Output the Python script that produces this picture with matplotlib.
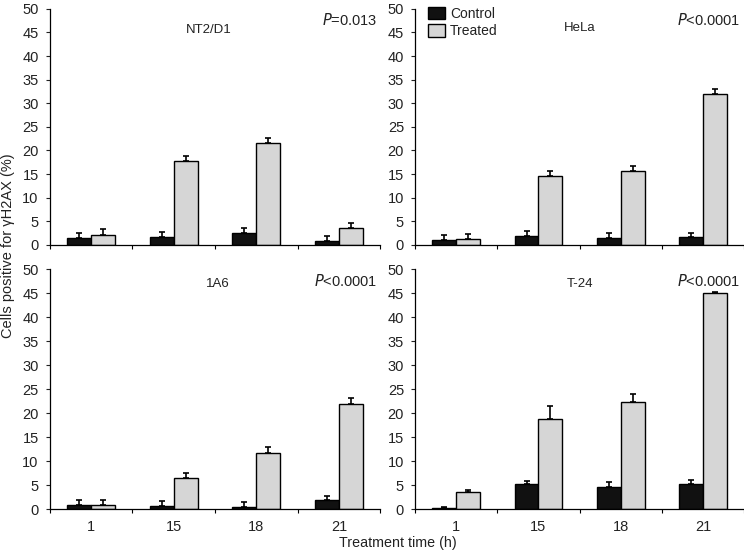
import numpy as np
import matplotlib
matplotlib.use('Agg')
import matplotlib.pyplot as plt

plt.rcParams['font.family'] = ['Liberation Sans', 'DejaVu Sans']

hours = ['1', '15', '18', '21']
cell_lines = ['NT2/D1', 'HeLa', '1A6', 'T-24']
p_values = ['=0.013', '<0.0001', '<0.0001', '<0.0001']

control = {
    'NT2/D1': [1.4, 1.6, 2.5, 0.9],
    'HeLa': [1.05, 1.8, 1.5, 1.6],
    '1A6': [0.9, 0.6, 0.4, 1.8],
    'T-24': [0.2, 5.3, 4.7, 5.2],
}
control_err = {
    'NT2/D1': [1.1, 1.1, 1.0, 1.0],
    'HeLa': [1.05, 1.2, 1.0, 1.0],
    '1A6': [1.0, 1.1, 1.1, 1.0],
    'T-24': [0.15, 0.5, 1.0, 0.8],
}
treated = {
    'NT2/D1': [2.1, 17.7, 21.5, 3.6],
    'HeLa': [1.3, 14.5, 15.7, 32.0],
    '1A6': [0.9, 6.5, 11.8, 21.9],
    'T-24': [3.6, 18.75, 22.3, 45.1],
}
treated_err = {
    'NT2/D1': [1.2, 1.2, 1.2, 1.1],
    'HeLa': [1.0, 1.1, 1.1, 1.1],
    '1A6': [1.0, 1.1, 1.1, 1.2],
    'T-24': [0.4, 2.75, 1.7, 0.1],
}

fig = plt.figure(figsize=(7.44, 5.54), dpi=100)
positions = [
    [0.067, 0.558, 0.444, 0.426],
    [0.558, 0.558, 0.442, 0.426],
    [0.067, 0.081, 0.444, 0.433],
    [0.558, 0.081, 0.442, 0.433],
]
title_pos = [(0.48, 0.91), (0.50, 0.92), (0.51, 0.94), (0.50, 0.94)]

txt = '#222222'
x = np.arange(len(hours)) + 0.5
w = 0.29

for i, name in enumerate(cell_lines):
    ax = fig.add_axes(positions[i])
    c = control[name]
    t = treated[name]
    ax.bar(x - w / 2, c, w, color='#111111', edgecolor='black', linewidth=1.0,
           yerr=[np.zeros(4), control_err[name]], capsize=2.5,
           error_kw=dict(elinewidth=1.2, capthick=1.2, ecolor='black'),
           label='Control', zorder=2)
    ax.bar(x + w / 2, t, w, color='#d6d6d6', edgecolor='black', linewidth=1.0,
           yerr=[np.zeros(4), treated_err[name]], capsize=2.5,
           error_kw=dict(elinewidth=1.2, capthick=1.2, ecolor='black'),
           label='Treated', zorder=2)
    ax.set_xlim(0, 4)
    ax.set_ylim(0, 50)
    ax.set_yticks(np.arange(0, 51, 5))
    ax.set_xticks([0, 1, 2, 3, 4])
    ax.set_xticklabels([])
    ax.set_xticks(x, minor=True)
    if i >= 2:
        ax.set_xticklabels(hours, minor=True)
    ax.tick_params(axis='x', which='minor', length=0, labelsize=10.5, colors=txt, pad=8)
    ax.tick_params(axis='x', which='major', length=3, direction='out')
    ax.tick_params(axis='y', length=3, labelsize=10.5, colors=txt, pad=5)
    for s in ['top', 'right']:
        ax.spines[s].set_visible(False)
    for s in ['left', 'bottom']:
        ax.spines[s].set_linewidth(0.9)
    ax.text(title_pos[i][0], title_pos[i][1], name, transform=ax.transAxes,
            ha='center', va='center', fontsize=9.5, color=txt)
    ax.text(0.99, 0.953, r'$\it{P}$' + p_values[i], transform=ax.transAxes, ha='right',
            va='center', fontsize=10.5, color=txt)
    if i == 1:
        ax.legend(loc='upper left', bbox_to_anchor=(0.015, 1.045), frameon=False,
                  fontsize=10, handlelength=1.2, handleheight=1.0, handletextpad=0.35,
                  labelspacing=0.25, borderaxespad=0.2, labelcolor=txt)

fig.text(0.011, 0.556, 'Cells positive for γH2AX (%)', rotation=90, ha='center', va='center',
         fontsize=10.5, color=txt)
fig.text(0.535, 0.02, 'Treatment time (h)', ha='center', va='center', fontsize=10.3, color=txt)

fig.savefig('out.png', dpi=100)
